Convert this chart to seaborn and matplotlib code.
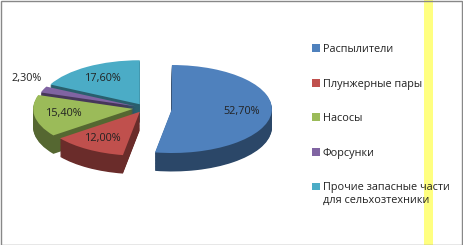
import numpy as np
import matplotlib
matplotlib.use("Agg")
import matplotlib.pyplot as plt
import matplotlib.colors as mcolors
from matplotlib.patches import Rectangle
from matplotlib.legend_handler import HandlerPatch
import seaborn as sns

categories = ["Распылители", "Плунжерные пары", "Насосы", "Форсунки",
              "Прочие запасные части\nдля сельхозтехники"]
values = [52.7, 12.0, 15.4, 2.3, 17.6]
explode = [0.27, 0.1, 0.12, 0.1, 0.1]
colors = ["#4F81BD", "#C0504D", "#9BBB59", "#8064A2", "#4BACC6"]

sns.set_theme(style="white")
plt.rcParams['font.family'] = ['Open Sans', 'DejaVu Sans']

fig = plt.figure(figsize=(4.63, 2.45), dpi=100)
fig.patch.set_facecolor("white")
ax = fig.add_axes([0, 0, 1, 1])

dark = [tuple(np.array(mcolors.to_rgb(c)) * 0.55) for c in colors]

depth = 0.42
for d in np.linspace(depth, 0.02, 24):
    ax.pie(values, explode=explode, colors=dark, startangle=90,
           counterclock=False, center=(0, -d),
           wedgeprops=dict(linewidth=0))

wedges, texts, autotexts = ax.pie(
    values, explode=explode, colors=colors, startangle=90, counterclock=False,
    autopct=lambda p: f"{p:.2f}%".replace(".", ","), pctdistance=0.7,
    wedgeprops=dict(linewidth=0),
    textprops=dict(fontsize=7.8, color="#222222"))

# move the tiny slice's label outside along its own angle
w = wedges[3]
ang = np.deg2rad((w.theta1 + w.theta2) / 2)
cx, cy = w.center
autotexts[3].set_position((cx + 1.18 * np.cos(ang), cy + 1.65 * np.sin(ang)))

# axes scaling: 1 unit x = 100 px, 1 unit y = 44 px
cxp, cyp = 145, 108
ax.set_aspect("auto")
ax.set_xlim(-cxp / 100, (463 - cxp) / 100)
ax.set_ylim(-(245 - cyp) / 44, cyp / 44)
ax.axis("off")

# yellow stripe
fig.add_artist(Rectangle((424 / 463, 0), 9 / 463, 1, transform=fig.transFigure,
                         facecolor="#FFFF80", edgecolor="none", zorder=-1))


def top_square(legend, orig_handle, xdescent, ydescent, width, height, fontsize):
    return Rectangle((-xdescent, -ydescent + 0.7 * fontsize), width, height)


handler_map = {wedges[4]: HandlerPatch(patch_func=top_square)}
leg = ax.legend(wedges, categories, loc="upper left",
                bbox_to_anchor=(312 / 463, 1 - 44 / 245), bbox_transform=fig.transFigure,
                frameon=False, fontsize=7.8, labelspacing=2.17,
                handlelength=0.7, handleheight=0.7, handletextpad=0.3,
                borderpad=0, borderaxespad=0, handler_map=handler_map)
for t in leg.get_texts():
    t.set_color("#222222")

# border
fig.add_artist(Rectangle((0.5 / 463, 0.5 / 245), 461.5 / 463, 243.5 / 245,
                         transform=fig.transFigure, facecolor="none",
                         edgecolor="#888888", linewidth=1))

fig.savefig("out.png", dpi=100)
